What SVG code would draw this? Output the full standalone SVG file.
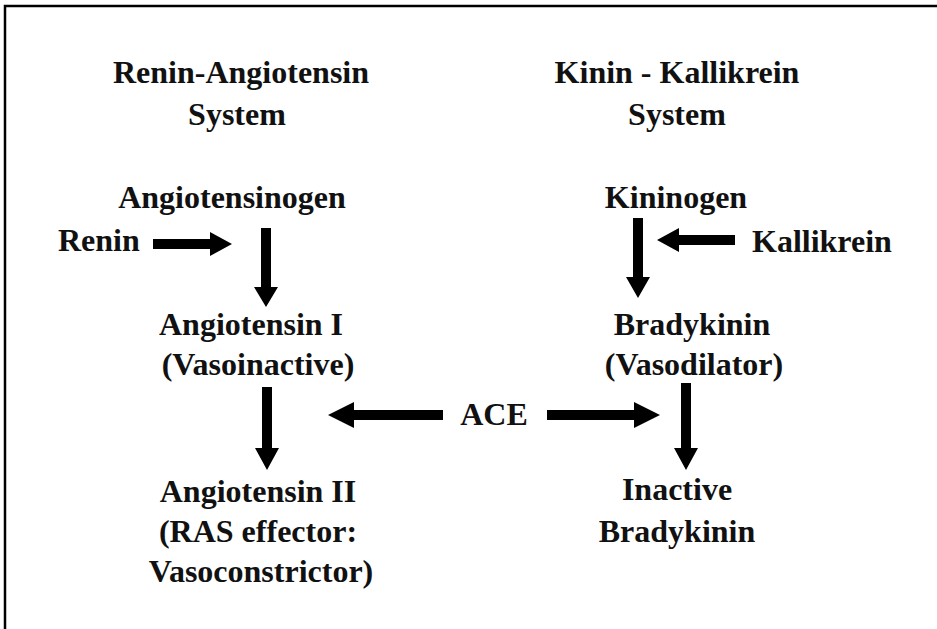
<svg xmlns="http://www.w3.org/2000/svg" width="937" height="629" viewBox="0 0 937 629">
<style>
.t{font-family:"Liberation Serif","Times New Roman",serif;font-weight:bold;font-size:32px;fill:#111;text-anchor:middle}
.l{text-anchor:start}
.a{fill:#000}
.frame{fill:none;stroke:#000;stroke-width:2.5}
</style>
<rect width="937" height="629" fill="#fff"/>
<path class="frame" d="M5,629 V6 H937"/>
<g id="ras-title"><text class="t" x="241" y="83">Renin-Angiotensin</text><text class="t" x="237" y="125">System</text></g>
<g id="kks-title"><text class="t" x="677" y="83">Kinin - Kallikrein</text><text class="t" x="677" y="125">System</text></g>
<g id="angiotensinogen"><text class="t" x="232" y="208">Angiotensinogen</text></g>
<g id="renin"><text class="t l" x="58" y="251">Renin</text></g>
<g id="angiotensin-i"><text class="t" x="251" y="335">Angiotensin I</text><text class="t" x="258" y="375">(Vasoinactive)</text></g>
<g id="angiotensin-ii"><text class="t" x="258" y="502">Angiotensin II</text><text class="t" x="258" y="542">(RAS effector:</text><text class="t" x="261" y="582">Vasoconstrictor)</text></g>
<g id="ace"><text class="t" x="494" y="425">ACE</text></g>
<g id="kininogen"><text class="t" x="676" y="208">Kininogen</text></g>
<g id="kallikrein"><text class="t l" x="752" y="252">Kallikrein</text></g>
<g id="bradykinin"><text class="t" x="692" y="335">Bradykinin</text><text class="t" x="694" y="375">(Vasodilator)</text></g>
<g id="inactive-bradykinin"><text class="t" x="677" y="500">Inactive</text><text class="t" x="677" y="542">Bradykinin</text></g>
<g id="connectors">
<polygon class="a" points="153,239 210,239 210,232 232,244 210,256 210,249 153,249"/>
<polygon class="a" points="261,228 271,228 271,287 278,287 266,307 254,287 261,287"/>
<polygon class="a" points="262,387 272,387 272,448 279,448 267,470 255,448 262,448"/>
<polygon class="a" points="443,410 354,410 354,402 328,415 354,428 354,420 443,420"/>
<polygon class="a" points="547,410 634,410 634,402 660,415 634,428 634,420 547,420"/>
<polygon class="a" points="735,235 679,235 679,228 657,240 679,252 679,245 735,245"/>
<polygon class="a" points="633,218 643,218 643,277 650,277 638,298 626,277 633,277"/>
<polygon class="a" points="681,383 691,383 691,448 698,448 686,470 674,448 681,448"/>
</g>
</svg>
